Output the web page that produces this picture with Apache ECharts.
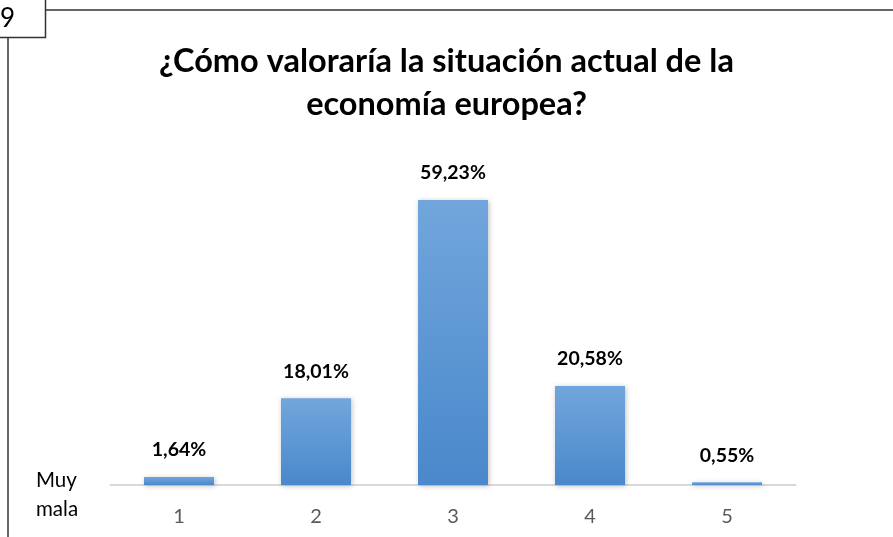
<!DOCTYPE html>
<html>
<head>
<meta charset="utf-8">
<script src="https://cdn.jsdelivr.net/npm/echarts@6/dist/echarts.min.js"></script>
<style>
  html, body { margin: 0; padding: 0; background: #fff; }
  #chart { width: 893px; height: 537px; }
</style>
</head>
<body>
<div id="chart"></div>
<script>
// Survey answers on a 1–5 scale (1 = "Muy mala")
const categories = ['1', '2', '3', '4', '5'];
const percentages = [1.64, 18.01, 59.23, 20.58, 0.55];
const titleLines = ['¿Cómo valoraría la situación actual de la', 'economía europea?'];
const scaleNote = ['Muy', 'mala'];
const pageNumber = '9';

const font = 'Lato, "Open Sans", sans-serif';

const chart = echarts.init(document.getElementById('chart'), null, { renderer: 'canvas' });

chart.setOption({
  animation: false,
  backgroundColor: '#ffffff',
  title: {
    text: titleLines.join('\n'),
    left: 'center',
    top: 35,
    textStyle: {
      fontFamily: font,
      fontWeight: 'bold',
      fontSize: 32.5,
      lineHeight: 43,
      color: '#000000'
    }
  },
  grid: {
    left: 110.5,
    right: 97.5,
    top: 196.4,
    bottom: 52
  },
  xAxis: {
    type: 'category',
    data: categories,
    axisLine: { lineStyle: { color: '#d9d9d9', width: 2 } },
    axisTick: { show: false },
    axisLabel: {
      color: '#595959',
      fontFamily: font,
      fontSize: 20,
      margin: 22
    }
  },
  yAxis: {
    type: 'value',
    min: 0,
    max: 60,
    show: false,
    splitLine: { show: false }
  },
  series: [{
    type: 'bar',
    data: percentages,
    barWidth: 70,
    itemStyle: {
      color: new echarts.graphic.LinearGradient(0, 0, 0, 1, [
        { offset: 0, color: '#71a6dc' },
        { offset: 1, color: '#4a88cb' }
      ]),
      shadowColor: 'rgba(0,0,0,0.25)',
      shadowBlur: 5,
      shadowOffsetX: 1,
      shadowOffsetY: 1
    },
    label: {
      show: true,
      position: 'top',
      distance: 17,
      formatter: p => p.value.toFixed(2).replace('.', ',') + '%',
      color: '#000000',
      fontFamily: font,
      fontWeight: 'bold',
      fontSize: 19.5
    }
  }],
  graphic: [
    // page-number box and frame lines
    { type: 'rect', shape: { x: -1, y: -1, width: 46.5, height: 38.5 },
      style: { fill: '#fff', stroke: '#333', lineWidth: 1.5 } },
    { type: 'text', left: 0, top: 6,
      style: { text: pageNumber, fontFamily: font, fontSize: 26, fill: '#000' } },
    { type: 'line', shape: { x1: 45.5, y1: 10, x2: 893, y2: 10 },
      style: { stroke: '#333', lineWidth: 1.5 } },
    { type: 'line', shape: { x1: 8, y1: 37.5, x2: 8, y2: 537 },
      style: { stroke: '#333', lineWidth: 1.5 } },
    // scale anchor label beside the first category
    { type: 'text', left: 36, top: 466,
      style: { text: scaleNote.join('\n'), fontFamily: font, fontSize: 20.5,
               lineHeight: 29, fill: '#000' } }
  ]
});
</script>
</body>
</html>
